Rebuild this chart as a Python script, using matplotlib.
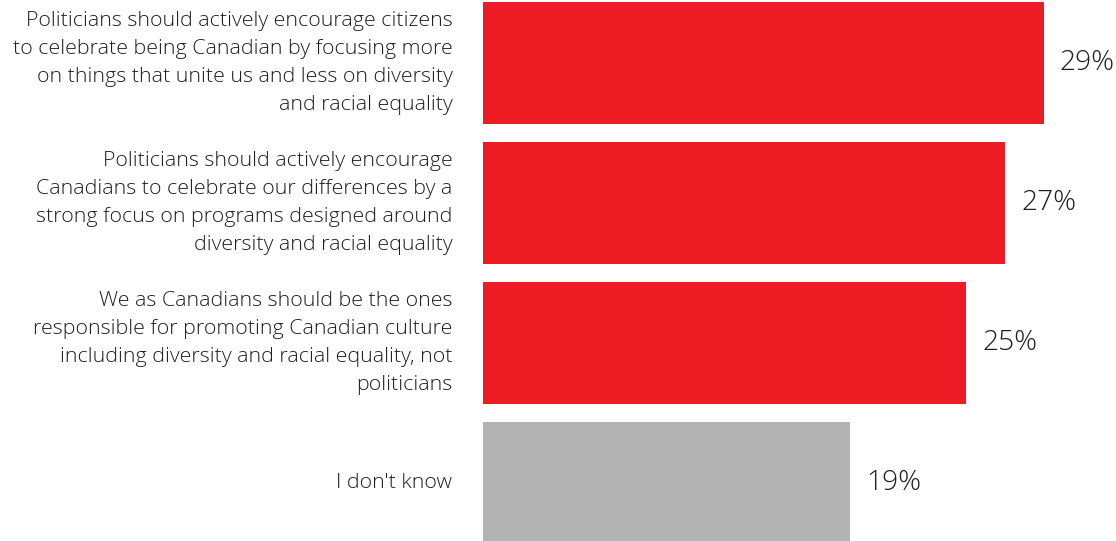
import matplotlib
matplotlib.use("Agg")
import matplotlib.pyplot as plt

categories = [
    "Politicians should actively encourage citizens\nto celebrate being Canadian by focusing more\non things that unite us and less on diversity\nand racial equality",
    "Politicians should actively encourage\nCanadians to celebrate our differences by a\nstrong focus on programs designed around\ndiversity and racial equality",
    "We as Canadians should be the ones\nresponsible for promoting Canadian culture\nincluding diversity and racial equality, not\npoliticians",
    "I don't know",
]
values = [29, 27, 25, 19]
bar_colors = ["#ED1C24", "#ED1C24", "#ED1C24", "#B3B3B3"]

plt.rcParams["font.family"] = ["Open Sans", "DejaVu Sans"]
plt.rcParams["font.weight"] = 300
text_color = "#1F1F1F"

W, H, DPI = 1116, 541, 100
fig = plt.figure(figsize=(W / DPI, H / DPI), dpi=DPI)
ax = fig.add_axes([483 / W, 0, (W - 483) / W, 1])

pos = list(range(len(values)))
ax.barh(pos, values, height=0.871, color=bar_colors)
ax.set_xlim(0, (W - 483) / 19.34)
ax.set_ylim((H - 63) / 140, -63 / 140)

ax.set_yticks(pos)
ax.set_yticklabels(categories, fontsize=15.4, color=text_color,
                   linespacing=1.54, fontweight=300, va="center")
ax.tick_params(axis="y", length=0, pad=22)
ax.set_xticks([])
for s in ax.spines.values():
    s.set_visible(False)

for p, v in zip(pos, values):
    ax.annotate(f"{v}%", xy=(v, p), xytext=(11.5, 0), textcoords="offset points",
                ha="left", va="center", fontsize=20.3, fontweight=300,
                color=text_color)

fig.savefig("out.png", dpi=DPI)
